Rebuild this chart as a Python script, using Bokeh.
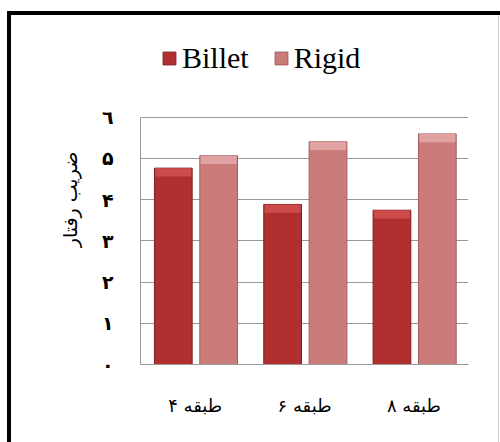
from bokeh.plotting import figure
from bokeh.models import (FactorRange, Range1d, FixedTicker, Legend, LegendItem,
                          ColumnDataSource)
from bokeh.transform import dodge
from bokeh.embed import file_html
from bokeh.resources import INLINE

# ---- data ----
categories = ["۴ طبقه", "۶ طبقه", "۸ طبقه"]
billet = [4.76, 3.88, 3.74]
rigid = [5.06, 5.40, 5.59]
series_names = ["Billet", "Rigid"]
y_ticks = [0, 1, 2, 3, 4, 5, 6]
y_tick_labels = ["۰", "۱", "۲", "۳", "۴", "۵", "٦"]
y_title = "ضریب رفتار"

RLM = "\u200f"  # keep right-to-left order of the digit and the word
BEVEL = 0.2     # height (in data units) of the lighter bevel at each bar top

src = ColumnDataSource(dict(cat=categories, billet=billet, rigid=rigid,
                            billet_b=[v - BEVEL for v in billet],
                            rigid_b=[v - BEVEL for v in rigid]))

# y range extends above 6 so that the legend sits inside the (unclipped) frame area
p = figure(x_range=FactorRange(factors=categories, range_padding=0),
           y_range=Range1d(0, 8),
           width=500, height=442,
           output_backend="svg", toolbar_location=None,
           min_border_left=140, min_border_right=32,
           min_border_top=34, min_border_bottom=78)
p.background_fill_alpha = 0
p.border_fill_alpha = 0
p.outline_line_color = None
# outer chart frame drawn behind the transparent canvas
p.styles = {
    "background-color": "white",
    "background-image": ("linear-gradient(#000, #000), linear-gradient(#000, #000), "
                         "linear-gradient(#d0d0d0, #d0d0d0)"),
    "background-repeat": "no-repeat",
    "background-position": "7px 11px, 7px 11px, 498px 11px",
    "background-size": "100% 4px, 4px 100%, 1px 100%",
}

p.xgrid.grid_line_color = None
p.ygrid.ticker = FixedTicker(ticks=y_ticks)
p.ygrid.grid_line_color = "#999999"

r1 = p.vbar(x=dodge("cat", -0.2, range=p.x_range), top="billet", width=0.345,
            source=src, fill_color="#b03030", line_color="#7d1d1d", line_width=1)
r2 = p.vbar(x=dodge("cat", 0.215, range=p.x_range), top="rigid", width=0.345,
            source=src, fill_color="#cc7b7b", line_color="#a35a5a", line_width=1)
# lighter bevel at the top of the bars
p.vbar(x=dodge("cat", -0.2, range=p.x_range), top="billet", bottom="billet_b",
       width=0.33, source=src, fill_color="#cc4a4a", line_color=None)
p.vbar(x=dodge("cat", 0.215, range=p.x_range), top="rigid", bottom="rigid_b",
       width=0.33, source=src, fill_color="#e0a2a2", line_color=None)

legend = Legend(items=[LegendItem(label=series_names[0], renderers=[r1]),
                       LegendItem(label=series_names[1], renderers=[r2])],
                orientation="horizontal", location=(21, 289),
                label_text_font="Liberation Serif", label_text_font_size="30px",
                label_text_color="black",
                glyph_width=16, glyph_height=16, label_standoff=5, spacing=24,
                padding=0, margin=0, border_line_color=None,
                background_fill_alpha=0)
p.add_layout(legend)

# y axis
p.yaxis.ticker = FixedTicker(ticks=y_ticks)
p.yaxis.bounds = (0, 6)
p.yaxis.major_label_overrides = {t: l for t, l in zip(y_ticks, y_tick_labels)}
p.yaxis.major_tick_line_color = None
p.yaxis.minor_tick_line_color = None
p.yaxis.axis_line_color = "#999999"
p.yaxis.major_label_text_font = "DejaVu Sans"
p.yaxis.major_label_text_font_style = "bold"
p.yaxis.major_label_text_font_size = "19px"
p.yaxis.major_label_text_color = "black"
p.yaxis.major_label_standoff = 21
p.yaxis.axis_label = y_title
p.yaxis.axis_label_text_font = "DejaVu Sans"
p.yaxis.axis_label_text_font_style = "normal"
p.yaxis.axis_label_text_font_size = "19px"
p.yaxis.axis_label_text_color = "black"
p.yaxis.axis_label_standoff = 18

# x axis
p.xaxis.major_label_overrides = {c: RLM + c for c in categories}
p.xaxis.major_tick_line_color = None
p.xaxis.minor_tick_line_color = None
p.xaxis.axis_line_color = "#999999"
p.xaxis.major_label_text_font = "DejaVu Sans"
p.xaxis.major_label_text_font_size = "18px"
p.xaxis.major_label_text_color = "black"
p.xaxis.major_label_standoff = 24

open("out.html", "w").write(file_html(p, INLINE))
